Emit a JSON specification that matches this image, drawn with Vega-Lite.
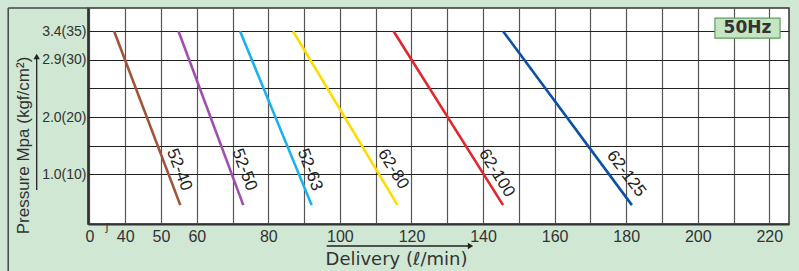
{
  "$schema": "https://vega.github.io/schema/vega-lite/v6.json",
  "width": 701,
  "height": 216,
  "autosize": {"type": "none"},
  "padding": {"left": 88, "top": 8, "right": 10, "bottom": 47},
  "background": "#cfe7d3",
  "config": {
    "view": {"fill": "white", "stroke": "#333", "strokeWidth": 1.5},
    "font": "Liberation Sans"
  },
  "datasets": {
    "lines": [
      {"model": "52-40", "delivery": 36.9, "pressure": 35},
      {"model": "52-40", "delivery": 55.4, "pressure": 4.6},
      {"model": "52-50", "delivery": 54.9, "pressure": 35},
      {"model": "52-50", "delivery": 73.0, "pressure": 4.6},
      {"model": "52-63", "delivery": 72.1, "pressure": 35},
      {"model": "52-63", "delivery": 92.1, "pressure": 4.6},
      {"model": "62-80", "delivery": 86.9, "pressure": 35},
      {"model": "62-80", "delivery": 116.1, "pressure": 4.6},
      {"model": "62-100", "delivery": 115.0, "pressure": 35},
      {"model": "62-100", "delivery": 145.6, "pressure": 4.6},
      {"model": "62-125", "delivery": 145.6, "pressure": 35},
      {"model": "62-125", "delivery": 181.6, "pressure": 4.6}
    ],
    "labels": [
      {"model": "52-40", "group": "a", "delivery": 55.1, "pressure": 10.8},
      {"model": "52-50", "group": "a", "delivery": 73.3, "pressure": 10.8},
      {"model": "52-63", "group": "a", "delivery": 91.6, "pressure": 10.8},
      {"model": "62-80", "group": "b", "delivery": 114.9, "pressure": 10.9},
      {"model": "62-100", "group": "b", "delivery": 143.8, "pressure": 10.2},
      {"model": "62-125", "group": "c", "delivery": 180.0, "pressure": 10.1}
    ],
    "badge": [
      {"label": "50Hz", "delivery": 213.9, "pressure": 35.5, "d1": 204.8, "d2": 223.0, "p1": 37.3, "p2": 33.8}
    ],
    "xarrow": [{"delivery": 96.3, "d2": 136.5, "pressure": -2.55}],
    "yarrow": [{"delivery": 15.26, "pressure": 7.25, "p2": 30.6}],
    "heads": [
      {"dir": "x", "delivery": 136.5, "pressure": -2.55},
      {"dir": "y", "delivery": 15.26, "pressure": 30.6}
    ],
    "frame": [
      {"side": "left", "delivery": 7.3, "d2": 7.3, "pressure": 39.07, "p2": -7.0},
      {"side": "top", "delivery": 7.3, "d2": 29.6, "pressure": 39.07, "p2": 39.07}
    ],
    "brk": [{"t": "ʃ", "delivery": 34.9, "pressure": 0.6}]
  },
  "encoding": {
    "x": {
      "field": "delivery", "type": "quantitative",
      "scale": {"domain": [29.6, 225.5], "nice": false, "zero": false},
      "axis": {
        "values": [30, 40, 50, 60, 70, 80, 90, 100, 110, 120, 130, 140, 150, 160, 170, 180, 190, 200, 210, 220],
        "labelExpr": "datum.value == 30 ? '0' : (indexof([70, 90, 110, 130, 150, 170, 190, 210], datum.value) >= 0 ? '' : datum.label)",
        "grid": true, "gridColor": "#555", "gridWidth": 1.2,
        "ticks": false, "domainColor": "#333", "domainWidth": 2,
        "labelFontSize": 16, "labelColor": "#333", "labelPadding": 4,
        "labelFlush": false, "labelOverlap": false,
        "title": "Delivery (ℓ/min)", "titleFont": "DejaVu Sans", "titleFontSize": 18, "titleFontWeight": "normal",
        "titleColor": "#333", "titleX": 308, "titleY": 35, "titleBaseline": "middle", "titleAlign": "center"
      }
    },
    "y": {
      "field": "pressure", "type": "quantitative",
      "scale": {"domain": [1.3, 39.07], "nice": false, "zero": false},
      "axis": {
        "values": [10, 15, 20, 25, 30, 35],
        "labelExpr": "datum.value == 35 ? '3.4(35)' : datum.value == 30 ? '2.9(30)' : datum.value == 20 ? '2.0(20)' : datum.value == 10 ? '1.0(10)' : ''",
        "grid": true, "gridColor": "#222", "gridWidth": 1.2,
        "ticks": false, "domainColor": "#333", "domainWidth": 2,
        "labelFont": "Liberation Sans",
        "labelFontSize": 14, "labelColor": "#333", "labelPadding": 2,
        "labelOverlap": false,
        "title": "Pressure Mpa (kgf/cm²)", "titleFontSize": 17, "titleFontWeight": "normal",
        "titleColor": "#333", "titleX": -65, "titleY": 137, "titleAngle": -90,
        "titleBaseline": "middle", "titleAlign": "center"
      }
    }
  },
  "layer": [
    {
      "data": {"name": "lines"},
      "mark": {"type": "line", "strokeWidth": 2.6},
      "encoding": {
        "color": {
          "field": "model", "type": "nominal",
          "scale": {
            "domain": ["52-40", "52-50", "52-63", "62-80", "62-100", "62-125"],
            "range": ["#a0553a", "#a04fb0", "#19b2ea", "#ffdc00", "#e2262e", "#0a50a3"]
          },
          "legend": null
        }
      }
    },
    {
      "data": {"name": "labels"},
      "transform": [{"filter": "datum.group == 'a'"}],
      "mark": {"type": "text", "angle": 69, "fontSize": 17, "color": "#222", "align": "center", "baseline": "middle"},
      "encoding": {"text": {"field": "model"}}
    },
    {
      "data": {"name": "labels"},
      "transform": [{"filter": "datum.group == 'b'"}],
      "mark": {"type": "text", "angle": 58, "fontSize": 17, "color": "#222", "align": "center", "baseline": "middle"},
      "encoding": {"text": {"field": "model"}}
    },
    {
      "data": {"name": "labels"},
      "transform": [{"filter": "datum.group == 'c'"}],
      "mark": {"type": "text", "angle": 53, "fontSize": 17, "color": "#222", "align": "center", "baseline": "middle"},
      "encoding": {"text": {"field": "model"}}
    },
    {
      "data": {"name": "badge"},
      "mark": {"type": "rect", "fill": "#c6e5c2", "stroke": "#5e9e5e", "strokeWidth": 1.2},
      "encoding": {
        "x": {"field": "d1", "type": "quantitative"},
        "x2": {"field": "d2"},
        "y": {"field": "p1", "type": "quantitative"},
        "y2": {"field": "p2"}
      }
    },
    {
      "data": {"name": "badge"},
      "mark": {"type": "text", "fontSize": 17, "fontWeight": "bold", "font": "DejaVu Sans", "color": "#333", "align": "center", "baseline": "middle"},
      "encoding": {"text": {"field": "label"}}
    },
    {
      "data": {"name": "xarrow"},
      "mark": {"type": "rule", "color": "#222", "strokeWidth": 1.3},
      "encoding": {"x2": {"field": "d2"}}
    },
    {
      "data": {"name": "yarrow"},
      "mark": {"type": "rule", "color": "#222", "strokeWidth": 1.3},
      "encoding": {"y2": {"field": "p2"}}
    },
    {
      "data": {"name": "heads"},
      "transform": [{"filter": "datum.dir == 'x'"}],
      "mark": {"type": "point", "shape": "triangle-right", "filled": true, "color": "#222", "size": 40, "opacity": 1}
    },
    {
      "data": {"name": "heads"},
      "transform": [{"filter": "datum.dir == 'y'"}],
      "mark": {"type": "point", "shape": "triangle-up", "filled": true, "color": "#222", "size": 40, "opacity": 1}
    },
    {
      "data": {"name": "frame"},
      "mark": {"type": "rule", "color": "#444", "strokeWidth": 1.5},
      "encoding": {"x2": {"field": "d2"}, "y2": {"field": "p2"}}
    },
    {
      "data": {"name": "brk"},
      "mark": {"type": "text", "fontSize": 11, "color": "#333", "align": "center", "baseline": "middle"},
      "encoding": {"text": {"field": "t"}}
    }
  ]
}
